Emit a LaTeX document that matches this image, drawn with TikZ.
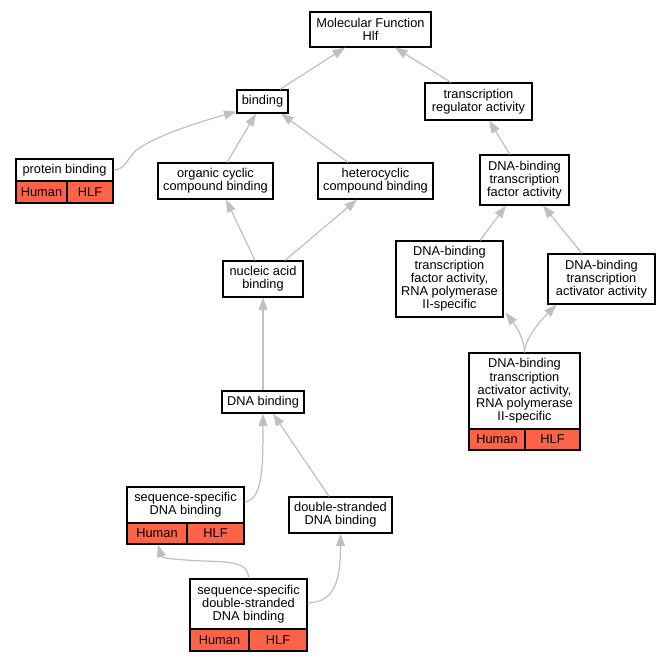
\documentclass[tikz,border=0pt]{standalone}
\usepackage{fontspec}
\setmainfont{Liberation Sans}
\usetikzlibrary{arrows.meta}
\definecolor{tomatofill}{RGB}{255,99,71}
\definecolor{edgegray}{RGB}{192,192,192}
\tikzset{
  box/.style={draw=black, line width=1.2pt, fill=white, inner sep=0pt, align=center,
    font=\fontsize{12.8}{13.3}\selectfont},
  cell/.style={box, fill=tomatofill},
  edge/.style={draw=edgegray, line width=1.2pt, -{Triangle[length=12.5pt,width=9pt]}},
}
\begin{document}
\begin{tikzpicture}[x=1pt,y=-1pt]
\fill[white] (0,0) rectangle (671,661);
\useasboundingbox (0,0) rectangle (671,661);

% nodes
\node[box, minimum width=121pt, minimum height=35pt] (mf) at (370.5,29.5) {Molecular Function\\Hlf};
\node[box, minimum width=51pt, minimum height=23pt] (bind) at (262.5,101.5) {binding};
\node[box, minimum width=107pt, minimum height=37pt] (tra) at (478.5,101.5) {transcription\\regulator activity};

\node[box, minimum width=97pt, minimum height=22pt] (pb) at (64.5,170) {protein binding};
\node[cell, minimum width=51pt, minimum height=22pt] (pbh) at (41.5,192) {Human};
\node[cell, minimum width=46pt, minimum height=22pt] (pbg) at (90,192) {HLF};

\node[box, minimum width=115pt, minimum height=36pt] (oc) at (215.5,181) {organic cyclic\\compound binding};
\node[box, minimum width=115pt, minimum height=36pt] (hc) at (375.5,181) {heterocyclic\\compound binding};
\node[box, minimum width=89pt, minimum height=50pt] (dbtfa) at (524.5,180) {DNA-binding\\transcription\\factor activity};

\node[box, minimum width=80pt, minimum height=36pt] (na) at (263,279) {nucleic acid\\binding};
\node[box, minimum width=107pt, minimum height=76pt] (rnap) at (449.5,279) {DNA-binding\\transcription\\factor activity,\\RNA polymerase\\II-specific};
\node[box, minimum width=107pt, minimum height=50pt] (act) at (601.5,279) {DNA-binding\\transcription\\activator activity};

\node[box, minimum width=111pt, minimum height=76pt] (actr) at (524.5,391) {DNA-binding\\transcription\\activator activity,\\RNA polymerase\\II-specific};
\node[cell, minimum width=56pt, minimum height=21pt] (actrh) at (497,439.5) {Human};
\node[cell, minimum width=55pt, minimum height=21pt] (actrg) at (552.5,439.5) {HLF};

\node[box, minimum width=82pt, minimum height=22pt] (dna) at (263,402) {DNA binding};

\node[box, minimum width=117pt, minimum height=36pt] (ssdna) at (185.5,505) {sequence-specific\\DNA binding};
\node[cell, minimum width=60pt, minimum height=21pt] (ssdnah) at (157,533.5) {Human};
\node[cell, minimum width=57pt, minimum height=21pt] (ssdnag) at (215.5,533.5) {HLF};

\node[box, minimum width=103pt, minimum height=36pt] (ds) at (340.5,515) {double-stranded\\DNA binding};

\node[box, minimum width=117pt, minimum height=50pt] (ssds) at (248.5,604) {sequence-specific\\double-stranded\\DNA binding};
\node[cell, minimum width=59pt, minimum height=22pt] (ssdsh) at (219.5,640) {Human};
\node[cell, minimum width=58pt, minimum height=22pt] (ssdsg) at (278,640) {HLF};

% edges
\draw[edge] ([xshift=17.5pt]bind.north) -- ([xshift=-25.5pt]mf.south);
\draw[edge] ([xshift=-27.5pt]tra.north) -- ([xshift=24.5pt]mf.south);
\draw[edge] (pb.east) .. controls +(13,0) and +(-13,8) .. ++(27,-23)
   .. controls +(25,-15) and +(-32,9) .. ([yshift=2pt]bind.south west);
\draw[edge] ([xshift=11.5pt]oc.north) -- ([xshift=-6.5pt]bind.south);
\draw[edge] ([xshift=-27.5pt]hc.north) -- ([xshift=18.5pt]bind.south);
\draw[edge] ([xshift=-14.5pt]dbtfa.north) -- ([xshift=10.5pt]tra.south);
\draw[edge] ([xshift=-8pt]na.north) -- ([xshift=10.5pt]oc.south);
\draw[edge] ([xshift=22pt]na.north) -- ([xshift=-18.5pt]hc.south);
\draw[edge] (dna.north) -- (na.south);
\draw[edge] ([xshift=30.5pt]rnap.north) -- ([xshift=-18.5pt]dbtfa.south);
\draw[edge] ([xshift=-19.5pt]act.north) -- ([xshift=18.5pt]dbtfa.south);
\draw[edge] (actr.north) .. controls +(0,-13) and +(10,13) .. ([xshift=2pt,yshift=5pt]rnap.south east);
\draw[edge] (actr.north) .. controls +(0,-15) and +(-12,12) .. ([xshift=-45pt]act.south);
\draw[edge] ([yshift=3pt]ssdna.east) .. controls +(17,-3) and +(0,60) .. (dna.south);
\draw[edge] ([xshift=-11.5pt]ds.north) -- ([xshift=10pt]dna.south);
\draw[edge] (ssds.north) .. controls +(0,-13) and +(23,1) .. ++(-33.5,-17)
   .. controls +(-30,-1) and +(4,14) .. ([xshift=1pt]ssdnah.south);
\draw[edge] ([yshift=1pt]ssds.east) .. controls +(23,-1) and +(0,55) .. (ds.south);
\end{tikzpicture}
\end{document}
